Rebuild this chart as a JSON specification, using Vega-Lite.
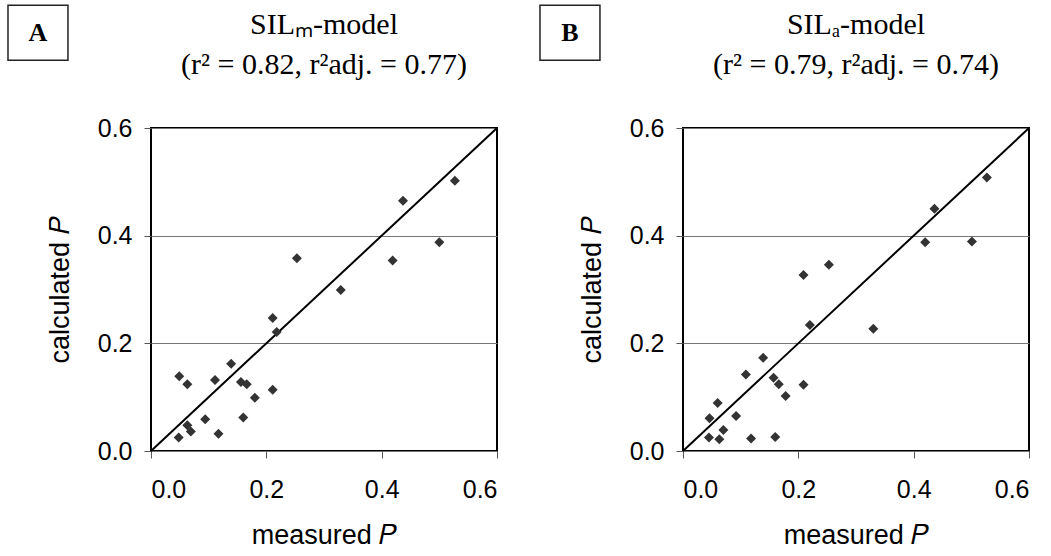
{
  "$schema": "https://vega.github.io/schema/vega-lite/v6.json",
  "padding": {"left": 6, "top": 3, "right": 0, "bottom": 0},
  "background": "white",
  "spacing": 39,
  "config": {
    "view": {"stroke": "black", "strokeWidth": 2},
    "axis": {
      "labelFont": "Liberation Sans", "labelFontSize": 25, "labelColor": "black",
      "titleFont": "Liberation Sans", "titleFontSize": 27, "titleFontWeight": "normal", "titleColor": "black",
      "tickSize": 7, "tickColor": "#555", "domain": false
    },
    "axisX": {"grid": false, "labelPadding": 19, "titlePadding": 20},
    "axisY": {"grid": true, "gridColor": "#777", "gridWidth": 1, "labelPadding": 12, "titlePadding": 23},
    "title": {"font": "Liberation Serif", "fontSize": 30, "fontWeight": "normal", "color": "black", "anchor": "middle", "frame": "group", "offset": -75, "lineHeight": 40}
  },
  "datasets": {
    "one": [{}],
    "A": [
      {"meas": 0.049, "calc": 0.139}, {"meas": 0.063, "calc": 0.124}, {"meas": 0.048, "calc": 0.025},
      {"meas": 0.063, "calc": 0.048}, {"meas": 0.069, "calc": 0.036}, {"meas": 0.094, "calc": 0.059},
      {"meas": 0.117, "calc": 0.032}, {"meas": 0.111, "calc": 0.132}, {"meas": 0.139, "calc": 0.162},
      {"meas": 0.156, "calc": 0.128}, {"meas": 0.166, "calc": 0.124}, {"meas": 0.160, "calc": 0.062},
      {"meas": 0.180, "calc": 0.099}, {"meas": 0.211, "calc": 0.114}, {"meas": 0.211, "calc": 0.247},
      {"meas": 0.218, "calc": 0.221}, {"meas": 0.253, "calc": 0.358}, {"meas": 0.329, "calc": 0.299},
      {"meas": 0.419, "calc": 0.354}, {"meas": 0.437, "calc": 0.465}, {"meas": 0.500, "calc": 0.388},
      {"meas": 0.527, "calc": 0.502}
    ],
    "B": [
      {"meas": 0.046, "calc": 0.061}, {"meas": 0.045, "calc": 0.025}, {"meas": 0.060, "calc": 0.089},
      {"meas": 0.063, "calc": 0.022}, {"meas": 0.070, "calc": 0.039}, {"meas": 0.092, "calc": 0.065},
      {"meas": 0.109, "calc": 0.142}, {"meas": 0.118, "calc": 0.023}, {"meas": 0.139, "calc": 0.173},
      {"meas": 0.157, "calc": 0.136}, {"meas": 0.166, "calc": 0.124}, {"meas": 0.160, "calc": 0.026},
      {"meas": 0.178, "calc": 0.102}, {"meas": 0.209, "calc": 0.123}, {"meas": 0.209, "calc": 0.327},
      {"meas": 0.220, "calc": 0.234}, {"meas": 0.253, "calc": 0.346}, {"meas": 0.330, "calc": 0.227},
      {"meas": 0.420, "calc": 0.388}, {"meas": 0.436, "calc": 0.450}, {"meas": 0.501, "calc": 0.389},
      {"meas": 0.527, "calc": 0.508}
    ]
  },
  "hconcat": [
    {
      "width": 346, "height": 323,
      "title": {"text": ["SILₘ-model", "(r² = 0.82, r²adj. = 0.77)"]},
      "layer": [
        {
          "data": {"name": "one"},
          "mark": {"type": "rect", "fill": "white", "stroke": "#222", "strokeWidth": 1.5, "clip": false},
          "encoding": {
            "x": {"datum": -0.248, "type": "quantitative", "scale": {"domain": [0, 0.6], "nice": false}, "axis": {"values": [0, 0.2, 0.4, 0.6], "format": ".1f", "title": "measured 𝑃"}},
            "x2": {"datum": -0.144},
            "y": {"datum": 0.828, "type": "quantitative", "scale": {"domain": [0, 0.6], "nice": false}, "axis": {"values": [0, 0.2, 0.4, 0.6], "format": ".1f", "title": "calculated 𝑃"}},
            "y2": {"datum": 0.726}
          }
        },
        {
          "data": {"name": "one"},
          "mark": {"type": "text", "text": "A", "font": "Liberation Serif", "fontWeight": "bold", "fontSize": 26, "color": "black", "baseline": "middle", "align": "center", "clip": false},
          "encoding": {"x": {"datum": -0.196, "type": "quantitative"}, "y": {"datum": 0.777, "type": "quantitative"}}
        },
        {
          "data": {"name": "one"},
          "mark": {"type": "rule", "color": "black", "strokeWidth": 2},
          "encoding": {"x": {"datum": 0, "type": "quantitative"}, "y": {"datum": 0, "type": "quantitative"}, "x2": {"datum": 0.6}, "y2": {"datum": 0.6}}
        },
        {
          "data": {"name": "A"},
          "mark": {"type": "point", "shape": "diamond", "filled": true, "color": "#333", "size": 100, "opacity": 1},
          "encoding": {"x": {"field": "meas", "type": "quantitative"}, "y": {"field": "calc", "type": "quantitative"}}
        }
      ]
    },
    {
      "width": 346, "height": 323,
      "title": {"text": ["SILₐ-model", "(r² = 0.79, r²adj. = 0.74)"]},
      "layer": [
        {
          "data": {"name": "one"},
          "mark": {"type": "rect", "fill": "white", "stroke": "#222", "strokeWidth": 1.5, "clip": false},
          "encoding": {
            "x": {"datum": -0.248, "type": "quantitative", "scale": {"domain": [0, 0.6], "nice": false}, "axis": {"values": [0, 0.2, 0.4, 0.6], "format": ".1f", "title": "measured 𝑃"}},
            "x2": {"datum": -0.144},
            "y": {"datum": 0.828, "type": "quantitative", "scale": {"domain": [0, 0.6], "nice": false}, "axis": {"values": [0, 0.2, 0.4, 0.6], "format": ".1f", "title": "calculated 𝑃"}},
            "y2": {"datum": 0.726}
          }
        },
        {
          "data": {"name": "one"},
          "mark": {"type": "text", "text": "B", "font": "Liberation Serif", "fontWeight": "bold", "fontSize": 26, "color": "black", "baseline": "middle", "align": "center", "clip": false},
          "encoding": {"x": {"datum": -0.196, "type": "quantitative"}, "y": {"datum": 0.777, "type": "quantitative"}}
        },
        {
          "data": {"name": "one"},
          "mark": {"type": "rule", "color": "black", "strokeWidth": 2},
          "encoding": {"x": {"datum": 0, "type": "quantitative"}, "y": {"datum": 0, "type": "quantitative"}, "x2": {"datum": 0.6}, "y2": {"datum": 0.6}}
        },
        {
          "data": {"name": "B"},
          "mark": {"type": "point", "shape": "diamond", "filled": true, "color": "#333", "size": 100, "opacity": 1},
          "encoding": {"x": {"field": "meas", "type": "quantitative"}, "y": {"field": "calc", "type": "quantitative"}}
        }
      ]
    }
  ]
}
